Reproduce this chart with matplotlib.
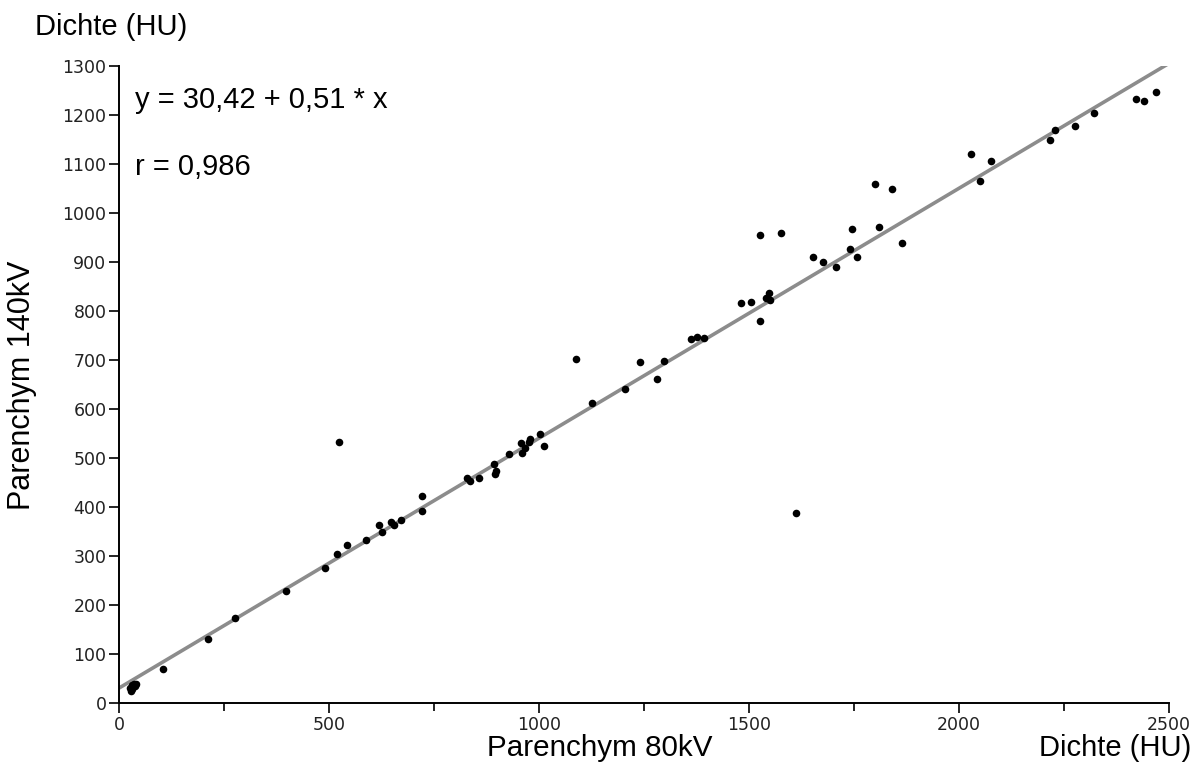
import numpy as np
import matplotlib
matplotlib.use("Agg")
import matplotlib.pyplot as plt
from matplotlib.ticker import MultipleLocator

kv80 = [26, 28, 30, 31, 36, 40, 38, 104, 212, 276, 397, 490, 520, 524, 544, 589,
        618, 627, 647, 654, 671, 721, 721, 828, 835, 856, 894, 896, 898, 929,
        956, 960, 967, 975, 979, 1002, 1013, 1088, 1125, 1204, 1240, 1280, 1298,
        1363, 1375, 1393, 1481, 1505, 1525, 1526, 1540, 1548, 1550, 1577, 1613,
        1653, 1676, 1707, 1740, 1745, 1757, 1801, 1810, 1840, 1864, 2028, 2051,
        2075, 2217, 2229, 2275, 2321, 2421, 2440, 2468]
kv140 = [30, 25, 28, 37, 39, 38, 35, 70, 130, 174, 229, 275, 304, 533, 322, 332,
         363, 349, 369, 364, 373, 423, 392, 459, 453, 460, 488, 468, 473, 509,
         530, 511, 521, 533, 539, 548, 524, 703, 612, 641, 696, 662, 698,
         743, 746, 745, 816, 819, 780, 955, 827, 836, 822, 959, 387,
         911, 901, 889, 927, 967, 910, 1059, 971, 1048, 939, 1120, 1066,
         1106, 1148, 1169, 1178, 1204, 1233, 1229, 1246]

intercept = 30.42
slope = 0.51
x_range = [0, 2500]

fig = plt.figure(figsize=(11.99, 7.69), dpi=100)
ax = fig.add_axes([119 / 1199, 66 / 769, 1050 / 1199, 637 / 769])

xl = np.array(x_range)
ax.plot(xl, intercept + slope * xl, color="#8c8c8c", lw=2.6, zorder=2)
ax.scatter(kv80, kv140, s=30, color="black", zorder=3, linewidths=0)

ax.set_xlim(0, 2500)
ax.set_ylim(0, 1300)
ax.xaxis.set_major_locator(MultipleLocator(500))
ax.xaxis.set_minor_locator(MultipleLocator(250))
ax.yaxis.set_major_locator(MultipleLocator(100))

for s in ["top", "right"]:
    ax.spines[s].set_visible(False)
for s in ["left", "bottom"]:
    ax.spines[s].set_linewidth(1.4)

ax.tick_params(which="both", direction="out", width=1.2, colors="black",
               labelsize=12.5, labelcolor="#222222")
ax.tick_params(which="major", length=7, pad=2)
ax.tick_params(which="minor", length=6)
for lab in ax.get_xticklabels() + ax.get_yticklabels():
    lab.set_family("DejaVu Sans")

big = dict(family="Liberation Sans", color="black")
ax.text(0.015, 0.947, "y = 30,42 + 0,51 * x", transform=ax.transAxes,
        fontsize=21, va="center", ha="left", **big)
ax.text(0.015, 0.841, "r = 0,986", transform=ax.transAxes,
        fontsize=21, va="center", ha="left", **big)

fig.text(35 / 1199, 1 - 27 / 769, "Dichte (HU)", fontsize=21, va="center", ha="left", **big)
fig.text(600 / 1199, 1 - 748 / 769, "Parenchym 80kV", fontsize=21.3, va="center", ha="center", **big)
fig.text(1191 / 1199, 1 - 748 / 769, "Dichte (HU)", fontsize=21, va="center", ha="right", **big)
fig.text(22 / 1199, 1 - 385 / 769, "Parenchym 140kV", fontsize=22, va="center", ha="center",
         rotation=90, **big)

fig.savefig("out.png", dpi=100)
